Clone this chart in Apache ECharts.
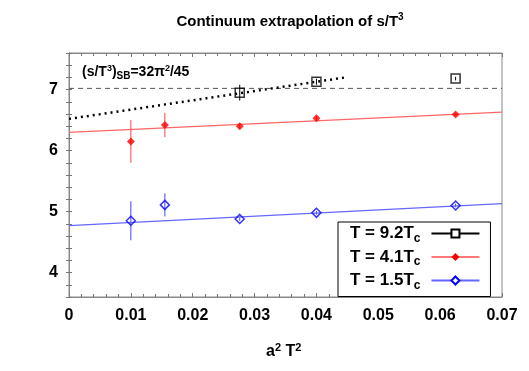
<!DOCTYPE html>
<html>
<head>
<meta charset="utf-8">
<script src="https://cdn.jsdelivr.net/npm/echarts@6/dist/echarts.min.js"></script>
<style>
html,body{margin:0;padding:0;background:#fff;}
#chart{width:529px;height:371px;}
</style>
</head>
<body>
<div id="chart"></div>
<script>
// a^2 T^2 positions and s/T^3 values
var x9 = [0.0276, 0.0400, 0.0625];
var y9 = [6.95, 7.13, 7.18];
var e9 = [0.13, 0.05, 0.03];

var x4 = [0.0100, 0.0155, 0.0276, 0.0400, 0.0625];
var y4 = [6.15, 6.42, 6.40, 6.53, 6.59];
var e4 = [0.35, 0.20, 0.04, 0.04, 0.03];

var x15 = [0.0100, 0.0155, 0.0276, 0.0400, 0.0625];
var y15 = [4.85, 5.11, 4.88, 4.98, 5.10];
var e15 = [0.32, 0.19, 0.03, 0.03, 0.03];

// straight line fits (end points)
var fit9 = [[0, 6.52], [0.0447, 7.20]];
var fit4 = [[0, 6.30], [0.07, 6.63]];
var fit15 = [[0, 4.77], [0.07, 5.13]];
var sbLine = [[0, 7.02], [0.07, 7.02]];

var names = ['T = 9.2Tc', 'T = 4.1Tc', 'T = 1.5Tc'];

function pts(xs, ys, es){
	var out = [];
	for(var i=0;i<xs.length;i++){
		out.push([xs[i], ys[i], es[i]]);
	}
	return out;
}

function errBars(data, color){
	return {
		type:'custom',
		data:data,
		silent:true,
		z:3,
		renderItem:function(params, api){
			var p1 = api.coord([api.value(0), api.value(1) + api.value(2)]);
			var p2 = api.coord([api.value(0), api.value(1) - api.value(2)]);
			return {
				type:'line',
				shape:{x1:p1[0], y1:p1[1], x2:p2[0], y2:p2[1]},
				style:{stroke:color, lineWidth:1}
			};
		}
	};
}

var font = 'Liberation Sans, Arial, sans-serif';

var tickStyle = {show:true, inside:true, length:4, lineStyle:{color:'#777'}};
var minorStyle = {show:true, splitNumber:5, length:3, lineStyle:{color:'#777'}};

function xAx(pos, showLabel){
	return {
		type:'value', position:pos, min:0, max:0.07, interval:0.01,
		axisLine:{show:true, lineStyle:{color:'#888'}},
		axisTick:tickStyle,
		minorTick:minorStyle,
		splitLine:{show:false},
		axisLabel:{
			show:showLabel, fontSize:16, fontWeight:'bold', color:'#000', fontFamily:font, margin:11,
			formatter:function(v){ return v === 0 ? '0' : v.toFixed(2); }
		}
	};
}
function yAx(pos, showLabel){
	return {
		type:'value', position:pos, min:3.6, max:7.6, interval:0.2,
		axisLine:{show:true, lineStyle:{color:'#888'}},
		axisTick:{show:true, inside:true, length:3, lineStyle:{color:'#777'}},
		splitLine:{show:false},
		axisLabel:{
			show:showLabel, fontSize:16, fontWeight:'bold', color:'#000', fontFamily:font, margin:11,
			formatter:function(v){ return Math.abs(v - Math.round(v)) < 1e-6 ? String(Math.round(v)) : ''; }
		}
	};
}

var chart = echarts.init(document.getElementById('chart'));
var option = {
	animation:false,
	backgroundColor:'#fff',
	title:{
		text:'Continuum extrapolation of s/T{sup|3}',
		left:285, top:7, textAlign:'center',
		textStyle:{
			fontSize:15, fontWeight:'bold', color:'#000', fontFamily:font,
			rich:{sup:{fontSize:10, fontWeight:'bold', fontFamily:font, padding:[0,0,9,0]}}
		}
	},
	grid:{left:69, right:27, top:53, bottom:74, show:true, borderColor:'#888', borderWidth:1},
	xAxis:[xAx('bottom', true), xAx('top', false)],
	yAxis:[yAx('left', true), yAx('right', false)],
	legend:{
		orient:'vertical',
		left:338, top:222,
		width:154,
		align:'right',
		padding:[3,10,5,12],
		itemGap:4,
		itemWidth:48,
		itemHeight:10,
		borderColor:'#000',
		borderWidth:1,
		backgroundColor:'#fff',
		data:names,
		formatter:function(n){ return n.slice(0, -1) + '{s|c}'; },
		textStyle:{
			fontSize:17, fontWeight:'bold', color:'#000', fontFamily:font, padding:[0,6,0,0],
			rich:{s:{fontSize:12, fontWeight:'bold', fontFamily:font, padding:[10,0,0,0]}}
		}
	},
	graphic:[
		{
			type:'text', left:82, top:64, silent:true,
			style:{
				text:'(s/T{sup|3}){sub|SB}=32π{sup|2}/45',
				font:'bold 14px ' + font, fill:'#000',
				rich:{
					sup:{fontSize:9, fontWeight:'bold', fontFamily:font, padding:[0,0,8,0]},
					sub:{fontSize:10, fontWeight:'bold', fontFamily:font, padding:[8,0,0,0]}
				}
			}
		},
		{
			type:'text', left:266, top:342, silent:true,
			style:{
				text:'a{sup|2} T{sup|2}',
				font:'bold 16px ' + font, fill:'#000',
				rich:{sup:{fontSize:11, fontWeight:'bold', fontFamily:font, padding:[0,0,9,0]}}
			}
		}
	],
	series:[
		// legend entries
		{name:names[0], type:'line', data:[], symbol:'rect', symbolSize:7,
			itemStyle:{color:'#fff', borderColor:'#000', borderWidth:1.5}, lineStyle:{color:'#000', width:1.5}},
		{name:names[1], type:'line', data:[], symbol:'diamond', symbolSize:7,
			itemStyle:{color:'#f00', borderColor:'#f00', borderWidth:0}, lineStyle:{color:'#ff7777', width:1}},
		{name:names[2], type:'line', data:[], symbol:'diamond', symbolSize:8,
			itemStyle:{color:'#fff', borderColor:'#0000ff', borderWidth:1.5}, lineStyle:{color:'#6666ff', width:1}},
		// fits
		{type:'line', data:sbLine, symbol:'none', silent:true,
			lineStyle:{color:'#555', width:1, type:[5,4]}},
		{type:'line', data:fit9, symbol:'none', silent:true,
			lineStyle:{color:'#000', width:2.5, type:[2,4]}},
		{type:'line', data:fit4, symbol:'none', silent:true,
			lineStyle:{color:'#ff6666', width:1.2}},
		{type:'line', data:fit15, symbol:'none', silent:true,
			lineStyle:{color:'#6666ff', width:1.2}},
		// error bars
		errBars(pts(x9, y9, e9), '#000'),
		errBars(pts(x4, y4, e4), '#ff4444'),
		errBars(pts(x15, y15, e15), '#4444ff'),
		// points
		{type:'scatter', data:pts(x9, y9, e9), symbol:'rect', symbolSize:9, z:4,
			itemStyle:{color:'rgba(255,255,255,0)', borderColor:'#000', borderWidth:1.5}},
		{type:'scatter', data:pts(x4, y4, e4), symbol:'diamond', symbolSize:8, z:4,
			itemStyle:{color:'#f00'}},
		{type:'scatter', data:pts(x15, y15, e15), symbol:'diamond', symbolSize:9, z:4,
			itemStyle:{color:'rgba(255,255,255,0)', borderColor:'#0000ff', borderWidth:1.5}}
	]
};
chart.setOption(option);
</script>
</body>
</html>
